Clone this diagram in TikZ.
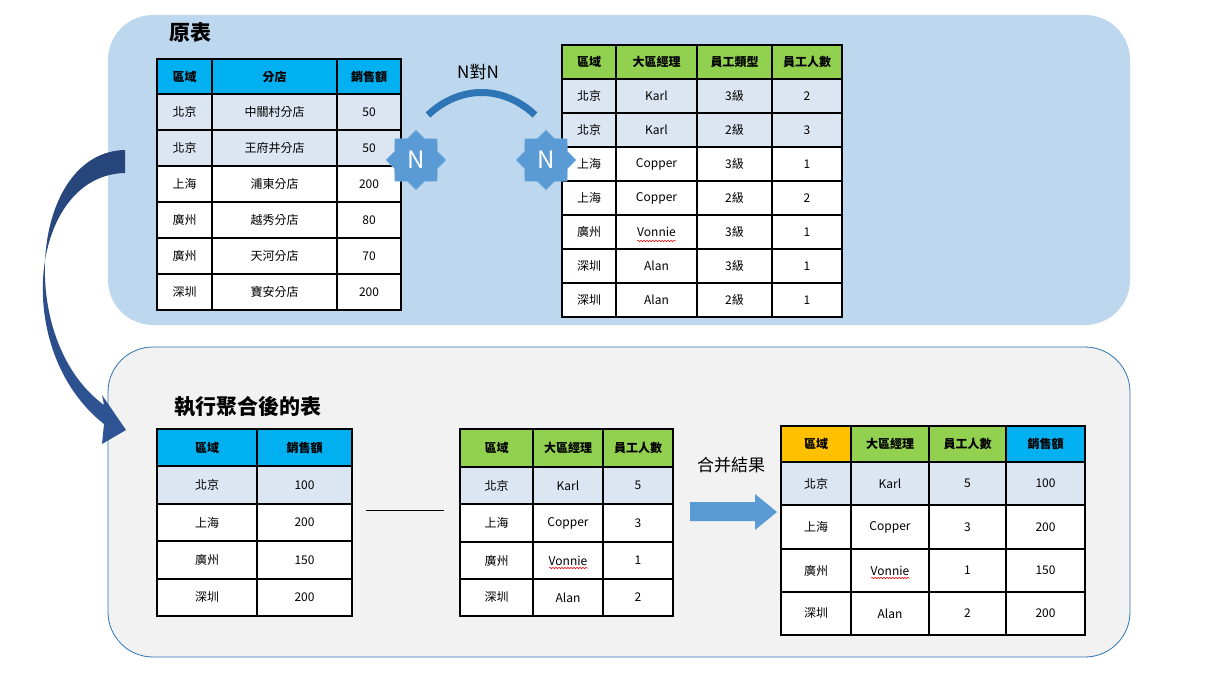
\documentclass[tikz,border=0pt]{standalone}
\usepackage{fontspec}
\setmainfont{Noto Sans CJK TC}
\usetikzlibrary{shapes.geometric,decorations.pathmorphing}
\definecolor{topbg}{HTML}{BDD7EE}
\definecolor{botbg}{HTML}{F2F2F2}
\definecolor{edgeblue}{HTML}{2E75B6}
\definecolor{hcyan}{HTML}{00B0F0}
\definecolor{hgreen}{HTML}{92D050}
\definecolor{horange}{HTML}{FFC000}
\definecolor{lightrow}{HTML}{DCE6F2}
\definecolor{starblue}{HTML}{5B9BD5}
\definecolor{darkarrow}{HTML}{264478}
\definecolor{midarrow}{HTML}{2F5597}
\tikzset{cellbox/.style={draw=black, line width=1.2pt, inner sep=0pt, font=\fontsize{12}{12}\selectfont},
 wavy/.style={red, line width=0.5pt, decorate, decoration={snake, amplitude=0.8pt, segment length=3pt}}}
\newcommand{\hd}[1]{{\fontsize{12}{12}\selectfont\bfseries #1}}
\newcommand{\mycell}[7]{%
 \pgfmathsetmacro{\cx}{(#2+#4)/2}\pgfmathsetmacro{\cy}{(#3+#5)/2}%
 \pgfmathsetmacro{\cw}{#4-#2}\pgfmathsetmacro{\ch}{#5-#3}%
 \node[cellbox, fill=#6, minimum width=\cw pt, minimum height=\ch pt] (#1) at (\cx,\cy) {#7};}
\begin{document}
\begin{tikzpicture}[x=1pt,y=-1pt]
\useasboundingbox (0,0) rectangle (1213,687);
\fill[topbg, rounded corners=45pt] (108,15) rectangle (1130,325);
\filldraw[fill=botbg, draw=edgeblue, line width=0.8pt, rounded corners=45pt] (108,347) rectangle (1130,657);
\node[font=\fontsize{21}{21}\selectfont\bfseries] (t1) at (190,33) {原表};
\node[font=\fontsize{21}{21}\selectfont\bfseries] (t2) at (248,407) {執行聚合後的表};
% table 1
\mycell{a00}{157}{59}{212}{94}{hcyan}{\hd{區域}}
\mycell{a01}{212}{59}{337}{94}{hcyan}{\hd{分店}}
\mycell{a02}{337}{59}{401}{94}{hcyan}{\hd{銷售額}}
\def\ys{{94,130,166,202,238,274,310}}
\foreach \r/\c/\s/\v/\f in {0/北京/中關村分店/50/lightrow,1/北京/王府井分店/50/lightrow,2/上海/浦東分店/200/white,3/廣州/越秀分店/80/white,4/廣州/天河分店/70/white,5/深圳/寶安分店/200/white}{
 \pgfmathsetmacro{\ya}{\ys[\r]}\pgfmathsetmacro{\yb}{\ys[\r+1]}
 \mycell{a\r1}{157}{\ya}{212}{\yb}{\f}{\c}
 \mycell{a\r2}{212}{\ya}{337}{\yb}{\f}{\s}
 \mycell{a\r3}{337}{\ya}{401}{\yb}{\f}{\v}}
% table 2
\mycell{b00}{562}{45}{616}{79}{hgreen}{\hd{區域}}
\mycell{b01}{616}{45}{697}{79}{hgreen}{\hd{大區經理}}
\mycell{b02}{697}{45}{772}{79}{hgreen}{\hd{員工類型}}
\mycell{b03}{772}{45}{842}{79}{hgreen}{\hd{員工人數}}
\def\yt{{79,113,147,181,215,249,283,317}}
\foreach \r/\c/\m/\t/\n/\f in {0/北京/Karl/3級/2/lightrow,1/北京/Karl/2級/3/lightrow,2/上海/Copper/3級/1/white,3/上海/Copper/2級/2/white,4/廣州/Vonnie/3級/1/white,5/深圳/Alan/3級/1/white,6/深圳/Alan/2級/1/white}{
 \pgfmathsetmacro{\ya}{\yt[\r]}\pgfmathsetmacro{\yb}{\yt[\r+1]}
 \mycell{b\r1}{562}{\ya}{616}{\yb}{\f}{\c}
 \mycell{b\r2}{616}{\ya}{697}{\yb}{\f}{\m}
 \mycell{b\r3}{697}{\ya}{772}{\yb}{\f}{\t}
 \mycell{b\r4}{772}{\ya}{842}{\yb}{\f}{\n}}
\draw[wavy] (637,241) -- (676,241);
\node[font=\fontsize{17}{17}\selectfont] (nn) at (478,72) {N對N};
\draw[edgeblue, line width=7pt] (428,115) .. controls (460,85) and (503,85) .. (535,115);
\node[star, star points=8, star point ratio=1.3, minimum size=60pt, fill=starblue, draw=starblue!70!white, text=white, font=\fontsize{24}{24}\selectfont, inner sep=0pt] (s1) at (416,160) {N};
\node[star, star points=8, star point ratio=1.3, minimum size=60pt, fill=starblue, draw=starblue!70!white, text=white, font=\fontsize{24}{24}\selectfont, inner sep=0pt] (s2) at (546,160) {N};
% table 3
\mycell{c00}{157}{429}{257}{466}{hcyan}{\hd{區域}}
\mycell{c01}{257}{429}{352}{466}{hcyan}{\hd{銷售額}}
\def\yc{{466,504,541,579,616}}
\foreach \r/\c/\v/\f in {0/北京/100/lightrow,1/上海/200/white,2/廣州/150/white,3/深圳/200/white}{
 \pgfmathsetmacro{\ya}{\yc[\r]}\pgfmathsetmacro{\yb}{\yc[\r+1]}
 \mycell{c\r1}{157}{\ya}{257}{\yb}{\f}{\c}
 \mycell{c\r2}{257}{\ya}{352}{\yb}{\f}{\v}}
\coordinate (l1) at (366,510); \coordinate (l2) at (444,510);
\draw[line width=0.8pt] (l1) -- (l2);
% table 4
\mycell{d00}{460}{429}{533}{467}{hgreen}{\hd{區域}}
\mycell{d01}{533}{429}{603}{467}{hgreen}{\hd{大區經理}}
\mycell{d02}{603}{429}{673}{467}{hgreen}{\hd{員工人數}}
\def\yd{{467,504,542,579,616}}
\foreach \r/\c/\m/\n/\f in {0/北京/Karl/5/lightrow,1/上海/Copper/3/white,2/廣州/Vonnie/1/white,3/深圳/Alan/2/white}{
 \pgfmathsetmacro{\ya}{\yd[\r]}\pgfmathsetmacro{\yb}{\yd[\r+1]}
 \mycell{d\r1}{460}{\ya}{533}{\yb}{\f}{\c}
 \mycell{d\r2}{533}{\ya}{603}{\yb}{\f}{\m}
 \mycell{d\r3}{603}{\ya}{673}{\yb}{\f}{\n}}
\draw[wavy] (549,568) -- (588,568);
\node[font=\fontsize{17}{17}\selectfont] (mg) at (731,465) {合并結果};
\fill[starblue] (690,502) -- (755,502) -- (755,494) -- (777,512) -- (755,530) -- (755,521) -- (690,521) -- cycle;
% table 5
\mycell{e00}{781}{426}{851}{462}{horange}{\hd{區域}}
\mycell{e01}{851}{426}{929}{462}{hgreen}{\hd{大區經理}}
\mycell{e02}{929}{426}{1006}{462}{hgreen}{\hd{員工人數}}
\mycell{e03}{1006}{426}{1085}{462}{hcyan}{\hd{銷售額}}
\def\ye{{462,505,549,592,635}}
\foreach \r/\c/\m/\n/\v/\f in {0/北京/Karl/5/100/lightrow,1/上海/Copper/3/200/white,2/廣州/Vonnie/1/150/white,3/深圳/Alan/2/200/white}{
 \pgfmathsetmacro{\ya}{\ye[\r]}\pgfmathsetmacro{\yb}{\ye[\r+1]}
 \mycell{e\r1}{781}{\ya}{851}{\yb}{\f}{\c}
 \mycell{e\r2}{851}{\ya}{929}{\yb}{\f}{\m}
 \mycell{e\r3}{929}{\ya}{1006}{\yb}{\f}{\n}
 \mycell{e\r4}{1006}{\ya}{1085}{\yb}{\f}{\v}}
\draw[wavy] (871,578) -- (910,578);
\shade[top color=darkarrow, bottom color=midarrow]
 (125,150) .. controls (30,152) and (15,340) .. (104,405) -- (102,395) -- (126,430) -- (102,444) -- (104,424)
 .. controls (10,350) and (30,175) .. (125,173) -- cycle;
\end{tikzpicture}
\end{document}
